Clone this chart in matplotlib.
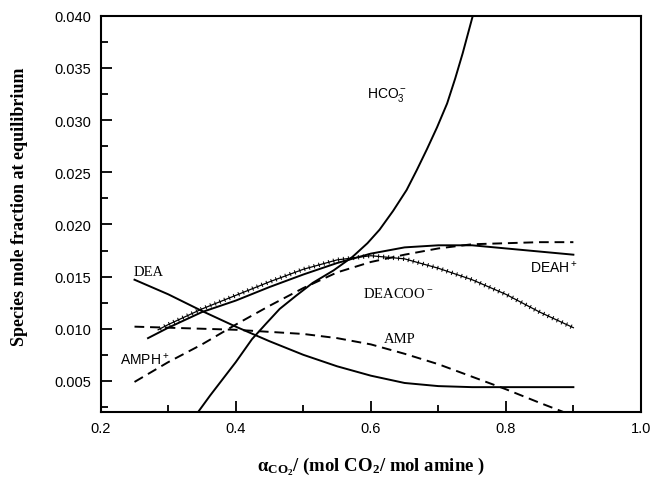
import numpy as np
import matplotlib
matplotlib.use("Agg")
import matplotlib.pyplot as plt
from matplotlib.ticker import MultipleLocator, FormatStrFormatter
import matplotlib.patheffects as pe

# ---- data ----
x_dea = [0.25, 0.30, 0.35, 0.40, 0.45, 0.50, 0.55, 0.60, 0.65, 0.70, 0.75, 0.80, 0.85, 0.90]
y_dea = [0.0147, 0.0133, 0.0117, 0.0102, 0.0088, 0.0075, 0.0064, 0.0055, 0.0048, 0.0045, 0.0044, 0.0044, 0.0044, 0.0044]

x_hco3 = [0.344, 0.362, 0.381, 0.40, 0.424, 0.445, 0.465, 0.49, 0.514, 0.545, 0.573, 0.595, 0.613, 0.633, 0.653, 0.668, 0.683, 0.698, 0.713, 0.725, 0.736, 0.751]
y_hco3 = [0.0020, 0.0036, 0.0052, 0.0068, 0.0090, 0.0105, 0.0119, 0.0132, 0.0144, 0.0156, 0.0169, 0.0182, 0.0195, 0.0213, 0.0233, 0.0252, 0.0272, 0.0293, 0.0316, 0.0340, 0.0364, 0.0400]

x_deah = [0.27, 0.30, 0.35, 0.40, 0.45, 0.50, 0.55, 0.60, 0.65, 0.70, 0.75, 0.80, 0.85, 0.90]
y_deah = [0.0091, 0.0101, 0.0116, 0.0127, 0.0140, 0.0152, 0.0163, 0.0172, 0.0178, 0.0180, 0.0180, 0.0177, 0.0174, 0.0171]

x_deacoo = [0.285, 0.30, 0.35, 0.40, 0.45, 0.50, 0.55, 0.60, 0.65, 0.70, 0.75, 0.80, 0.85, 0.90]
y_deacoo = [0.0099, 0.0104, 0.0119, 0.0132, 0.0145, 0.0157, 0.0166, 0.0170, 0.0167, 0.0158, 0.0147, 0.0133, 0.0116, 0.0101]

x_amph = [0.25, 0.30, 0.35, 0.40, 0.45, 0.50, 0.55, 0.60, 0.65, 0.70, 0.75, 0.80, 0.85, 0.90]
y_amph = [0.0049, 0.0068, 0.0085, 0.0104, 0.0122, 0.0139, 0.0154, 0.0164, 0.0171, 0.0177, 0.0181, 0.0182, 0.0183, 0.0183]

x_amp = [0.25, 0.30, 0.35, 0.40, 0.45, 0.50, 0.55, 0.60, 0.65, 0.70, 0.75, 0.80, 0.85, 0.89]
y_amp = [0.0102, 0.0101, 0.0100, 0.0099, 0.0097, 0.0095, 0.0091, 0.0085, 0.0076, 0.0066, 0.0054, 0.0042, 0.0029, 0.0019]

x_ticks = [0.2, 0.4, 0.6, 0.8, 1.0]
y_ticks = [0.005, 0.010, 0.015, 0.020, 0.025, 0.030, 0.035, 0.040]

SERIF = "Liberation Serif"
SANS = "Liberation Sans"

fig = plt.figure(figsize=(6.5, 4.81), dpi=100)
ax = fig.add_axes([0.155, 0.141, 0.831, 0.824])

lw = 1.4
ax.plot(x_dea, y_dea, color="black", lw=lw)
ax.plot(x_hco3, y_hco3, color="black", lw=lw)
ax.plot(x_deah, y_deah, color="black", lw=lw)
ax.plot(x_deacoo, y_deacoo, color="black", lw=0.9,
        path_effects=[pe.Normal(),
                      pe.TickedStroke(spacing=3.6, length=0.35, angle=90, linewidth=0.7),
                      pe.TickedStroke(spacing=3.6, length=0.35, angle=-90, linewidth=0.7)])
ax.plot(x_amph, y_amph, color="black", lw=lw, dashes=(5, 3))
ax.plot(x_amp, y_amp, color="black", lw=lw, dashes=(5, 3))

ax.set_xlim(0.2, 1.0)
ax.set_ylim(0.002, 0.040)
ax.set_xticks(x_ticks)
ax.set_yticks(y_ticks)
ax.xaxis.set_minor_locator(MultipleLocator(0.1))
ax.yaxis.set_minor_locator(MultipleLocator(0.0025))
ax.xaxis.set_major_formatter(FormatStrFormatter("%.1f"))
ax.yaxis.set_major_formatter(FormatStrFormatter("%.3f"))
ax.tick_params(which="both", direction="in", width=1.3)
ax.tick_params(which="major", length=8)
ax.tick_params(which="minor", length=5)
ax.tick_params(axis="x", pad=6)
ax.tick_params(axis="y", pad=7)
for lab in ax.get_xticklabels() + ax.get_yticklabels():
    lab.set_fontfamily(SANS)
    lab.set_fontsize(10.5)
for s in ax.spines.values():
    s.set_linewidth(1.5)

ax.set_ylabel("Species mole fraction at equilibrium", fontfamily=SERIF,
              fontweight="bold", fontsize=13)
ax.yaxis.set_label_coords(-0.135, 0.52)
xl = ax.set_xlabel(r"$\mathregular{\alpha_{CO_2}}$/ (mol CO$\mathregular{_2}$/ mol amine )",
                   fontfamily=SERIF, fontweight="bold", fontsize=13.5)
xl.set_verticalalignment("center")
ax.xaxis.set_label_coords(0.5, -0.135)

ax.text(0.594, 0.0325, r"HCO$\mathregular{_3^-}$", fontfamily=SANS, fontsize=10,
        va="center", ha="left")
ax.text(0.248, 0.0155, "DEA", fontfamily=SERIF, fontsize=10.5, va="center", ha="left")
ax.text(0.836, 0.0160, r"DEAH$\mathregular{^+}$", fontfamily=SANS, fontsize=10,
        va="center", ha="left")
ax.text(0.588, 0.0134, r"DEACOO$\mathregular{^-}$", fontfamily=SERIF, fontsize=10.5,
        va="center", ha="left")
ax.text(0.620, 0.0091, "AMP", fontfamily=SERIF, fontsize=10.5, va="center", ha="left")
ax.text(0.228, 0.0071, r"AMPH$\mathregular{^+}$", fontfamily=SANS, fontsize=10,
        va="center", ha="left")

fig.savefig("out.png", dpi=100)
